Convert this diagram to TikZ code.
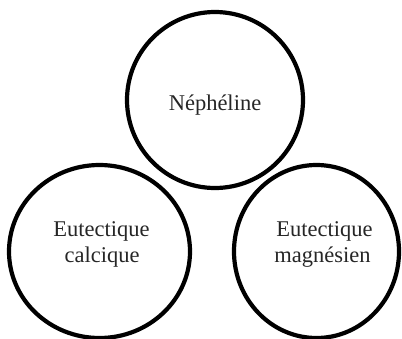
\documentclass[tikz,border=0pt]{standalone}
\usepackage{fontspec}
\setmainfont{Liberation Serif}
\usetikzlibrary{shapes.geometric}
\begin{document}
\begin{tikzpicture}[x=1pt,y=-1pt,
  ring/.style={draw=black, line width=4.2pt, ellipse, inner sep=0pt},
  lbl/.style={font=\fontsize{22.5}{26}\selectfont, align=center, anchor=base, inner sep=0pt, text=black!85}]
\useasboundingbox (0,0) rectangle (402,338);
\node[ring, minimum width=176pt, minimum height=176pt] (neph) at (215,100) {};
\node[ring, minimum width=181pt, minimum height=173pt] (calc) at (99.5,251.5) {};
\node[ring, minimum width=165pt, minimum height=173pt] (magn) at (316.5,251.5) {};
\node[lbl] (tneph) at (215,110) {Néphéline};
\node[lbl] (tcalc1) at (101.5,236) {Eutectique};
\node[lbl] (tcalc2) at (102,262) {calcique};
\node[lbl] (tmagn1) at (324.5,236) {Eutectique};
\node[lbl] (tmagn2) at (322.5,262) {magnésien};
\end{tikzpicture}
\end{document}
